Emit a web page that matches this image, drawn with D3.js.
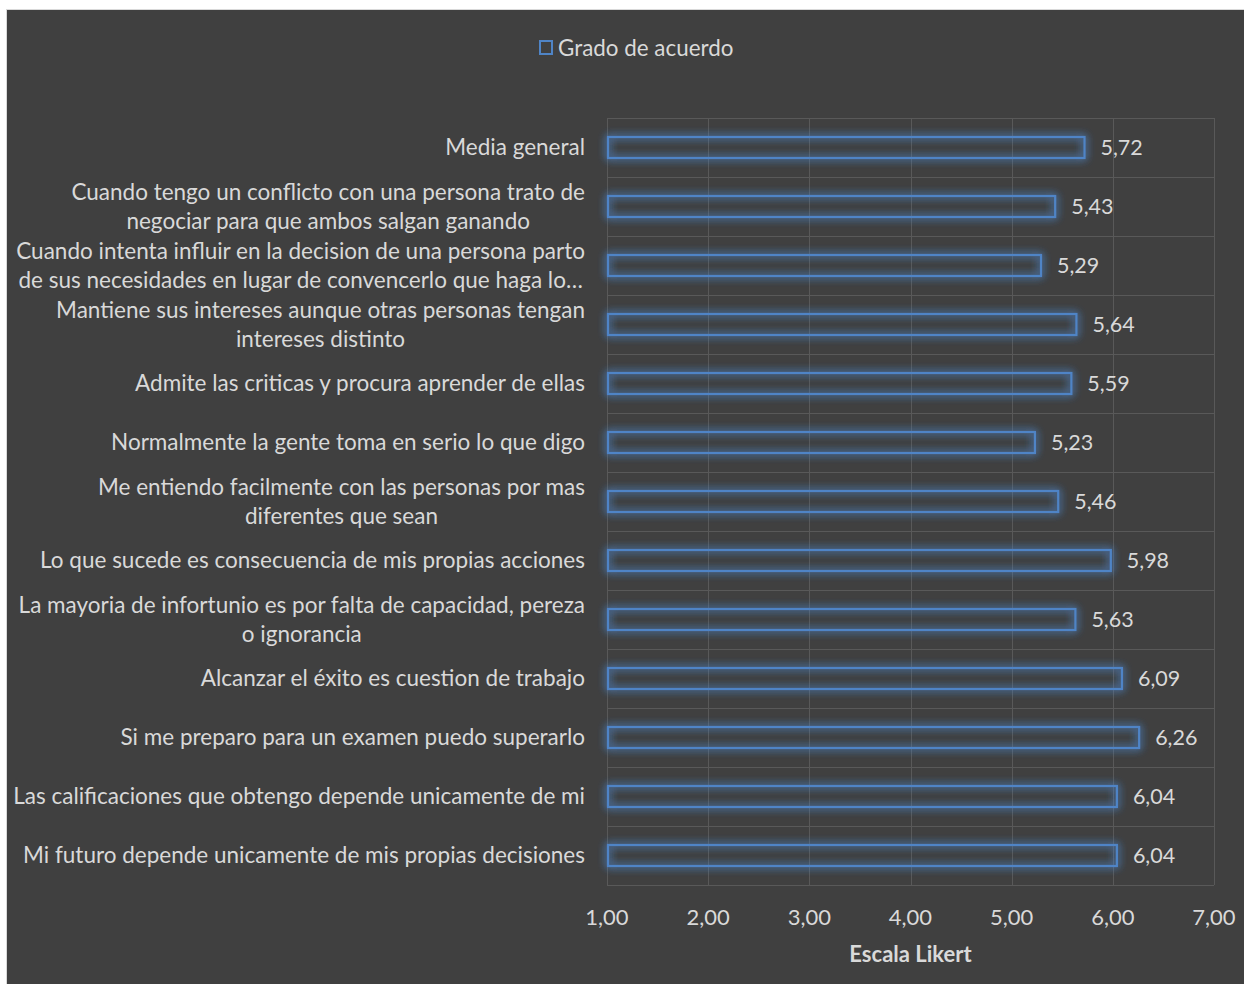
<!DOCTYPE html>
<html>
<head>
<meta charset="utf-8">
<script src="https://cdn.jsdelivr.net/npm/d3@7/dist/d3.min.js"></script>
<style>
  html, body { margin: 0; padding: 0; background: #ffffff; }
  svg { display: block; }
  text { font-family: Lato, "Open Sans", sans-serif; }
</style>
</head>
<body>
<svg id="chart" width="1244" height="984"></svg>
<script>
// Items (top to bottom) and their mean agreement on the Likert scale
const categories = [
  ["Media general"],
  ["Cuando tengo un conflicto con una persona trato de", "negociar para que ambos salgan ganando"],
  ["Cuando intenta influir en la decision de una persona parto", "de sus necesidades en lugar de convencerlo que haga lo…"],
  ["Mantiene sus intereses aunque otras personas tengan", "intereses distinto"],
  ["Admite las criticas y procura aprender de ellas"],
  ["Normalmente la gente toma en serio lo que digo"],
  ["Me entiendo facilmente con las personas por mas", "diferentes que sean"],
  ["Lo que sucede es consecuencia de mis propias acciones"],
  ["La mayoria de infortunio es por falta de capacidad, pereza", "o ignorancia"],
  ["Alcanzar el éxito es cuestion de trabajo"],
  ["Si me preparo para un examen puedo superarlo"],
  ["Las calificaciones que obtengo depende unicamente de mi"],
  ["Mi futuro depende unicamente de mis propias decisiones"]
];
const values = [5.72, 5.43, 5.29, 5.64, 5.59, 5.23, 5.46, 5.98, 5.63, 6.09, 6.26, 6.04, 6.04];
const xTicks = [1, 2, 3, 4, 5, 6, 7];
const seriesName = "Grado de acuerdo";
const axisTitle = "Escala Likert";

const fmt = v => v.toFixed(2).replace(".", ",");

const svg = d3.select("#chart");
const W = 1244, H = 984;
const textColor = "#d9d9d9";

// chart panel
svg.append("rect").attr("x", 6.5).attr("y", 9.5).attr("width", W).attr("height", H)
  .attr("fill", "#404040").attr("stroke", "#d9d9d9").attr("stroke-width", 1);

const plot = { left: 607, right: 1214, top: 118, bottom: 885 };
const ids = d3.range(categories.length);

const x = d3.scaleLinear().domain([1, 7]).range([plot.left, plot.right]);
const y = d3.scaleBand().domain(ids).range([plot.top, plot.bottom]).paddingInner(0).paddingOuter(0);

// soft glow for the bar outlines
const defs = svg.append("defs");
const f = defs.append("filter").attr("id", "glow")
  .attr("x", "-10%").attr("y", "-60%").attr("width", "120%").attr("height", "220%");
f.append("feGaussianBlur").attr("in", "SourceGraphic").attr("stdDeviation", 4).attr("result", "blur");
const fm = f.append("feMerge");
fm.append("feMergeNode").attr("in", "blur");
fm.append("feMergeNode").attr("in", "blur");
fm.append("feMergeNode").attr("in", "SourceGraphic");

const gridColor = "#595959";
// vertical gridlines
svg.append("g").selectAll("line").data(xTicks).join("line")
  .attr("x1", d => Math.round(x(d)) + 0.5).attr("x2", d => Math.round(x(d)) + 0.5)
  .attr("y1", plot.top).attr("y2", plot.bottom)
  .attr("stroke", gridColor).attr("stroke-width", 1);
// horizontal category boundaries
svg.append("g").selectAll("line").data(d3.range(categories.length + 1)).join("line")
  .attr("x1", plot.left).attr("x2", plot.right)
  .attr("y1", d => Math.round(plot.top + d * y.step()) + 0.5)
  .attr("y2", d => Math.round(plot.top + d * y.step()) + 0.5)
  .attr("stroke", gridColor).attr("stroke-width", 1);

// bars
const barH = 21;
const barColor = "#4f84c6";
svg.append("g").selectAll("rect").data(values).join("rect")
  .attr("x", x(1) + 1)
  .attr("y", (d, i) => y(i) + y.bandwidth() / 2 - barH / 2)
  .attr("width", d => x(d) - x(1) - 1)
  .attr("height", barH)
  .attr("fill", "none")
  .attr("stroke", barColor).attr("stroke-width", 2.2)
  .attr("filter", "url(#glow)");

// value labels
svg.append("g").selectAll("text").data(values).join("text")
  .attr("x", d => x(d) + 16)
  .attr("y", (d, i) => y(i) + y.bandwidth() / 2)
  .attr("dy", "0.35em")
  .attr("fill", textColor).attr("font-size", 21.5)
  .text(d => fmt(d));

// category labels: block right-aligned to the axis, lines centered within block
const labelRight = 585, lineH = 29, labelSize = 22.5;
const lg = svg.append("g");
categories.forEach((lines, i) => {
  const t = lg.append("text").attr("fill", textColor).attr("font-size", labelSize)
    .attr("text-anchor", "middle");
  const cy = y(i) + y.bandwidth() / 2;
  const spans = lines.map((s, k) => t.append("tspan").text(s)
    .attr("y", cy + (k - (lines.length - 1) / 2) * lineH).attr("dy", "0.35em"));
  const wMax = d3.max(spans, s => s.node().getComputedTextLength());
  spans.forEach(s => s.attr("x", labelRight - wMax / 2));
});

// x axis tick labels
svg.append("g").selectAll("text").data(xTicks).join("text")
  .attr("x", d => x(d)).attr("y", 917).attr("dy", "0.35em")
  .attr("text-anchor", "middle").attr("fill", textColor).attr("font-size", 22)
  .text(d => fmt(d));

// axis title
svg.append("text").attr("x", (plot.left + plot.right) / 2).attr("y", 954).attr("dy", "0.35em")
  .attr("text-anchor", "middle").attr("fill", textColor).attr("font-size", 22)
  .attr("font-weight", "bold").text(axisTitle);

// legend
const leg = svg.append("g");
leg.append("rect").attr("x", 540).attr("y", 41).attr("width", 12).attr("height", 13)
  .attr("fill", "none").attr("stroke", barColor).attr("stroke-width", 2);
leg.append("text").attr("x", 558).attr("y", 48).attr("dy", "0.35em")
  .attr("fill", textColor).attr("font-size", 22.4).text(seriesName);
</script>
</body>
</html>
